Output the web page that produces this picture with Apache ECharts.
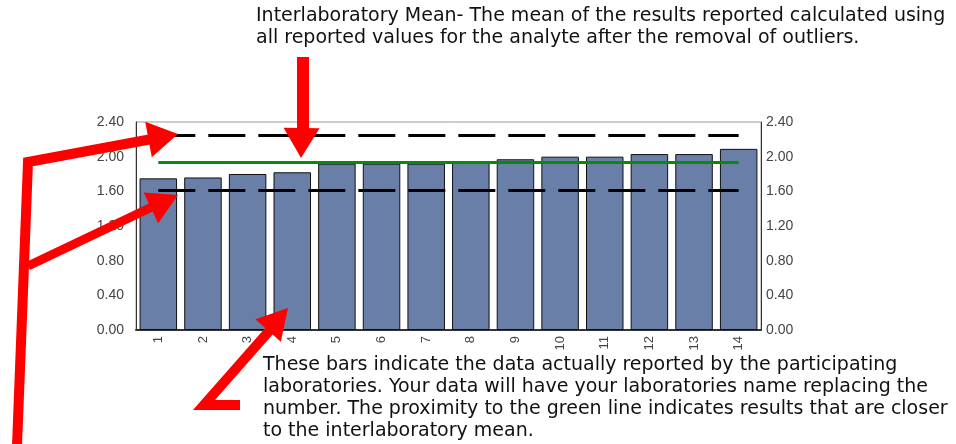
<!DOCTYPE html>
<html>
<head>
<meta charset="utf-8">
<script src="https://cdn.jsdelivr.net/npm/echarts@6/dist/echarts.min.js"></script>
<style>
  html, body { margin: 0; padding: 0; background: #fff; }
  #chart { width: 956px; height: 444px; }
</style>
</head>
<body>
<div id="chart"></div>
<script>
// lab results
const labs = ['1', '2', '3', '4', '5', '6', '7', '8', '9', '10', '11', '12', '13', '14']
const results = [1.75, 1.76, 1.80, 1.82, 1.92, 1.92, 1.92, 1.93, 1.97, 2.00, 2.00, 2.03, 2.03, 2.09]
const interlabMean = 1.93
const upperLimit = 2.25
const lowerLimit = 1.61
const yTicks = [0, 0.4, 0.8, 1.2, 1.6, 2.0, 2.4]

const topNote = 'Interlaboratory Mean- The mean of the results reported calculated using\nall reported values for the analyte after the removal of outliers.'
const barNote = 'These bars indicate the data actually reported by the participating\nlaboratories. Your data will have your laboratories name replacing the\nnumber. The proximity to the green line indicates results that are closer\nto the interlaboratory mean.'

const RED = '#ff0000'
const NOTE_FONT = '19px "DejaVu Sans", sans-serif'

// arrow head pointing from `from` to `tip`
function head(from, tip, len, half) {
  const dx = tip[0] - from[0], dy = tip[1] - from[1]
  const d = Math.sqrt(dx * dx + dy * dy)
  const ux = dx / d, uy = dy / d
  const cx = tip[0] - len * ux, cy = tip[1] - len * uy
  return {
    type: 'polygon', z: 100,
    shape: { points: [tip, [cx + half * uy, cy - half * ux], [cx - half * uy, cy + half * ux]] },
    style: { fill: RED }
  }
}
function shaft(points, w) {
  return {
    type: 'polyline', z: 100,
    shape: { points: points },
    style: { stroke: RED, lineWidth: w, fill: null, lineJoin: 'miter' }
  }
}

const chart = echarts.init(document.getElementById('chart'))

const yAxisBase = {
  type: 'value',
  min: yTicks[0],
  max: yTicks[yTicks.length - 1],
  interval: 0.4,
  axisLine: { show: true, lineStyle: { color: '#333', width: 1 } },
  axisTick: { show: false },
  splitLine: { show: false },
  axisLabel: {
    color: '#444',
    fontFamily: 'Liberation Sans',
    fontSize: 14,
    formatter: v => v.toFixed(2)
  }
}

chart.setOption({
  animation: false,
  grid: {
    left: 136,
    right: 195,
    top: 122,
    bottom: 114,
    show: true,
    borderColor: '#999',
    borderWidth: 1
  },
  xAxis: {
    type: 'category',
    data: labs,
    axisLine: { lineStyle: { color: '#333', width: 2 } },
    axisTick: { show: false },
    axisLabel: {
      rotate: 90,
      color: '#444',
      fontFamily: 'Liberation Sans',
      fontSize: 13,
      margin: 6
    }
  },
  yAxis: [
    Object.assign({}, yAxisBase, { position: 'left', axisLabel: Object.assign({}, yAxisBase.axisLabel, { margin: 12 }) }),
    Object.assign({}, yAxisBase, { position: 'right', axisLabel: Object.assign({}, yAxisBase.axisLabel, { margin: 5 }) })
  ],
  series: [
    {
      type: 'bar',
      data: results,
      barCategoryGap: '16%',
      itemStyle: { color: '#6a7fa7', borderColor: '#111', borderWidth: 1 },
      markLine: {
        silent: true,
        symbol: 'none',
        label: { show: false },
        data: [
          [{ xAxis: labs[0], yAxis: upperLimit, lineStyle: { color: '#000', width: 3, type: [37, 13] } },
           { xAxis: labs[labs.length - 1], yAxis: upperLimit }],
          [{ xAxis: labs[0], yAxis: lowerLimit, lineStyle: { color: '#000', width: 3, type: [37, 13] } },
           { xAxis: labs[labs.length - 1], yAxis: lowerLimit }],
          [{ xAxis: labs[0], yAxis: interlabMean, lineStyle: { color: '#0a8a0a', width: 3, type: 'solid' } },
           { xAxis: labs[labs.length - 1], yAxis: interlabMean }]
        ]
      }
    }
  ],
  graphic: [
    {
      type: 'text', left: 256, top: 5, z: 100,
      style: { text: topNote, font: NOTE_FONT, fill: '#111', lineHeight: 22 }
    },
    {
      type: 'text', left: 263, top: 354, z: 100,
      style: { text: barNote, font: NOTE_FONT, fill: '#111', lineHeight: 22 }
    },
    // top arrow to the mean line
    shaft([[303, 57], [303, 134]], 12),
    head([303, 57], [301, 158], 30, 18),
    // left arrows to the limits
    shaft([[17, 446], [28, 162], [152, 139]], 10),
    head([28, 162], [178, 134], 30, 18),
    shaft([[28, 266], [154, 206]], 9),
    head([28, 266], [178, 195], 30, 17),
    // bottom arrow to the bars
    shaft([[240, 405], [204, 405], [270, 330]], 10),
    head([202, 405], [288, 308], 30, 17)
  ]
})
</script>
</body>
</html>
